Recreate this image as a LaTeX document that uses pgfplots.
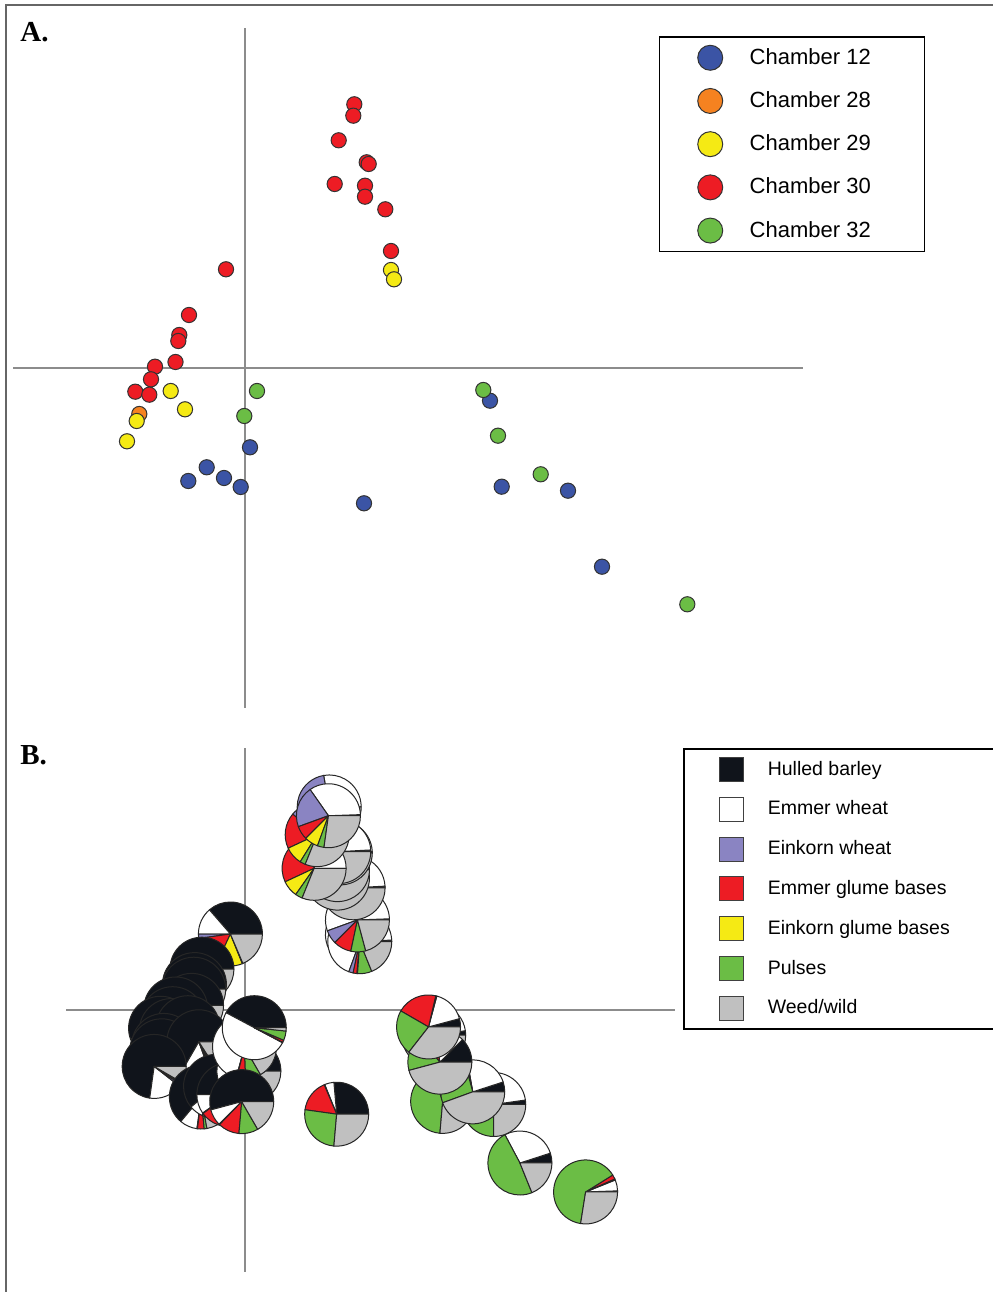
\documentclass[border=0pt]{standalone}
\usepackage{fontspec}
\setmainfont{Liberation Sans}
\newfontfamily\serifbf{Liberation Serif}
\usepackage{pgfplots}
\pgfplotsset{compat=1.18}
\usepackage{pgfplotstable}

\definecolor{c12}{HTML}{3B54A5}
\definecolor{c28}{HTML}{F58220}
\definecolor{c29}{HTML}{F5EA14}
\definecolor{c30}{HTML}{ED1C24}
\definecolor{c32}{HTML}{6BBD45}
\definecolor{pHB}{HTML}{10141B}
\definecolor{pEW}{HTML}{FFFFFF}
\definecolor{pEK}{HTML}{8A84C2}
\definecolor{pEG}{HTML}{ED1C24}
\definecolor{pKG}{HTML}{F5EA14}
\definecolor{pPU}{HTML}{6BBD45}
\definecolor{pWW}{HTML}{C0C0C0}

\pgfdeclareplotmark{blank}{}
\newcommand\tofix[2]{\pgfmathfloatparsenumber{#2}\pgfmathfloattofixed{\pgfmathresult}\let#1\pgfmathresult}
\newcommand\pieslice[3]{%
  \ifdim #1pt<#2pt\relax
    \pgfpathmoveto{\pgfpointorigin}%
    \pgfpathlineto{\pgfpointpolar{#1}{16pt}}%
    \pgfpatharc{#1}{#2}{16pt}%
    \pgfpathclose
    \pgfsetfillcolor{#3}%
    \pgfusepath{fill,stroke}%
  \fi}

% Panel A: ordination scores by chamber
\pgfplotstableread{
x y
0.050 -0.793
-0.383 -0.993
-0.567 -1.130
-0.210 -1.100
-0.043 -1.190
1.190 -1.353
2.450 -0.327
2.567 -1.187
3.230 -1.227
3.570 -1.987
}\chTwelve
\pgfplotstableread{
x y
-1.057 -0.460
}\chTwentyEight
\pgfplotstableread{
x y
1.460 0.980
1.490 0.887
-0.743 -0.230
-0.600 -0.413
-1.083 -0.530
-1.180 -0.733
}\chTwentyNine
\pgfplotstableread{
x y
1.093 2.637
1.083 2.523
0.937 2.277
1.217 2.057
1.237 2.040
0.897 1.840
1.200 1.823
1.200 1.713
1.403 1.587
1.460 1.170
-0.190 0.987
-0.560 0.530
-0.657 0.330
-0.667 0.270
-0.695 0.060
-0.900 0.013
-0.940 -0.113
-1.097 -0.237
-0.957 -0.267
}\chThirty
\pgfplotstableread{
x y
0.120 -0.230
-0.007 -0.480
2.383 -0.220
2.530 -0.677
2.957 -1.063
4.423 -2.363
}\chThirtyTwo

% Panel B: composition of each sample as cumulative pie angles (degrees)
% b1 hulled barley, b2 emmer wheat, b3 einkorn wheat, b4 emmer glume bases,
% b5 einkorn glume bases, b6 pulses; weed/wild from b6 to 360
\pgfplotstableread{
x y b1 b2 b3 b4 b5 b6
1.460 0.980 4 200 215 245 248 275
1.490 0.887 3 250 258 265 266 292
1.460 1.170 2 200 225 258 258 285
1.403 1.587 3 100 105 135 150 165
1.200 1.713 3 90 95 130 150 160
1.200 1.823 3 90 95 130 150 160
1.237 2.040 3 90 95 130 150 160
1.217 2.057 3 90 95 130 150 160
0.897 1.840 0 95 105 205 235 248
0.937 2.277 2 90 140 205 238 248
1.093 2.637 0 100 200 215 240 250
1.083 2.523 2 125 200 225 250 262
-0.190 0.987 131 180 188 245 292 293
-0.560 0.530 220 250 255 275 285 287
-0.657 0.330 200 240 265 285 295 296
-0.667 0.270 190 245 265 290 300 302
-0.695 0.060 190 235 260 285 298 300
-0.900 0.013 250 290 292 310 318 320
-0.940 -0.113 210 260 270 295 305 307
-1.097 -0.237 200 270 272 285 290 291
-0.957 -0.267 195 255 257 285 295 297
-0.743 -0.230 230 270 272 290 300 302
-1.057 -0.460 200 280 282 290 300 302
-1.083 -0.530 190 260 262 275 285 287
-0.600 -0.413 240 290 295 297 298 303
-1.180 -0.733 262 322 326 328 330 330
-0.567 -1.130 230 262 263 275 275 280
-0.383 -0.993 220 245 246 270 270 292
-0.210 -1.100 180 215 216 250 250 285
0.050 -0.793 130 200 201 240 240 280
-0.007 -0.480 90 255 256 272 272 300
0.120 -0.230 152 332 333 337 337 354
-0.043 -1.190 195 225 226 265 265 300
2.567 -1.187 20 100 101 110 110 265
3.230 -1.227 8 120 121 125 125 270
2.450 -0.327 8 70 71 90 90 200
2.957 -1.063 18 100 101 105 105 200
2.530 -0.677 45 100 101 130 130 195
2.383 -0.220 15 75 77 150 150 232
3.570 -1.987 18 118 118 118 118 292
4.423 -2.363 2 22 24 32 32 261
1.190 -1.353 95 112 113 172 172 265
}\pies

\pgfplotsset{
  panel/.style={scale only axis, anchor=south west,
    xmin=-2.32, xmax=5.58, ymin=-3.40, ymax=3.40,
    axis lines=middle, axis line style={-, draw=black!45, line width=0.75pt},
    xtick=\empty, ytick=\empty, clip=false},
  chm/.style={only marks, mark=*, mark size=3.8pt, draw=black!80, line width=0.5pt, fill=#1,
    legend image code/.code={\draw[draw=black!80, line width=0.5pt, fill=#1] (6.25pt,0pt) circle[radius=6.25pt];}},
  sq/.style={legend image code/.code={\draw[fill=#1, draw=black!75, line width=0.5pt] (0pt,-6pt) rectangle (12pt,6pt);}},
}

\begin{document}
\begin{tikzpicture}
\useasboundingbox (0pt,0pt) rectangle (496pt,646pt);
\fill[white] (0pt,0pt) rectangle (496pt,646pt);

% ---------- Panel A ----------
\begin{axis}[panel, at={(6.5pt,292pt)}, width=395pt, height=340pt,
  legend cell align=left,
  legend style={at={(0.8177,0.9882)}, anchor=north west, draw=black, line width=0.75pt, fill=white,
    inner xsep=18.75pt, inner ysep=4pt, row sep=8.6pt,
    font=\fontsize{11}{13}\selectfont, nodes={inner sep=0pt},
    /tikz/every odd column/.append style={column sep=13.25pt}}]
\addplot[chm=c12] table {\chTwelve};
\addlegendentry{\makebox[68.75pt][l]{Chamber 12}}
\addplot[chm=c28] table {\chTwentyEight};
\addlegendentry{\makebox[68.75pt][l]{Chamber 28}}
\addplot[chm=c29] table {\chTwentyNine};
\addlegendentry{\makebox[68.75pt][l]{Chamber 29}}
\addplot[chm=c30] table {\chThirty};
\addlegendentry{\makebox[68.75pt][l]{Chamber 30}}
\addplot[chm=c32] table {\chThirtyTwo};
\addlegendentry{\makebox[68.75pt][l]{Chamber 32}}
\end{axis}

% ---------- Panel B ----------
\begin{axis}[panel, at={(33.2pt,10.1pt)}, width=304.15pt, height=261.8pt,
  legend cell align=left,
  legend style={at={(1.0137,1.0)}, anchor=north west, draw=black, line width=0.75pt, fill=white,
    inner xsep=17.5pt, inner ysep=4pt, row sep=7.4pt,
    font=\fontsize{9.75}{11}\selectfont, nodes={inner sep=0pt},
    /tikz/every odd column/.append style={column sep=12pt}}]
\addplot[forget plot, scatter, only marks, mark=blank, point meta=\thisrow{b1},
  visualization depends on={\thisrow{b1}\as\bA},
  visualization depends on={\thisrow{b2}\as\bB},
  visualization depends on={\thisrow{b3}\as\bC},
  visualization depends on={\thisrow{b4}\as\bD},
  visualization depends on={\thisrow{b5}\as\bE},
  visualization depends on={\thisrow{b6}\as\bF},
  scatter/@pre marker code/.code={%
    \pgfscope
    \tofix\sA\bA\tofix\sB\bB\tofix\sC\bC\tofix\sD\bD\tofix\sE\bE\tofix\sF\bF
    \pgfsetstrokecolor{black!85}\pgfsetlinewidth{0.5pt}\pgfsetroundjoin
    \pieslice{0}{\sA}{pHB}%
    \pieslice{\sA}{\sB}{pEW}%
    \pieslice{\sB}{\sC}{pEK}%
    \pieslice{\sC}{\sD}{pEG}%
    \pieslice{\sD}{\sE}{pKG}%
    \pieslice{\sE}{\sF}{pPU}%
    \pieslice{\sF}{360}{pWW}%
    \endpgfscope},
  scatter/@post marker code/.code={}]
  table {\pies};
\addlegendimage{sq=pHB}\addlegendentry{\makebox[99.5pt][l]{Hulled barley}}
\addlegendimage{sq=pEW}\addlegendentry{\makebox[99.5pt][l]{Emmer wheat}}
\addlegendimage{sq=pEK}\addlegendentry{\makebox[99.5pt][l]{Einkorn wheat}}
\addlegendimage{sq=pEG}\addlegendentry{\makebox[99.5pt][l]{Emmer glume bases}}
\addlegendimage{sq=pKG}\addlegendentry{\makebox[99.5pt][l]{Einkorn glume bases}}
\addlegendimage{sq=pPU}\addlegendentry{\makebox[99.5pt][l]{Pulses}}
\addlegendimage{sq=pWW}\addlegendentry{\makebox[99.5pt][l]{Weed/wild}}
\end{axis}

% frame and panel letters
\draw[black!60, line width=0.75pt] (3pt,0pt) -- (3pt,643.5pt) -- (497pt,643.5pt);
\node[anchor=base west, inner sep=0pt, font=\serifbf\bfseries\fontsize{14.5}{15}\selectfont] at (10pt,625pt) {A.};
\node[anchor=base west, inner sep=0pt, font=\serifbf\bfseries\fontsize{14.5}{15}\selectfont] at (10pt,263.5pt) {B.};
\end{tikzpicture}
\end{document}
